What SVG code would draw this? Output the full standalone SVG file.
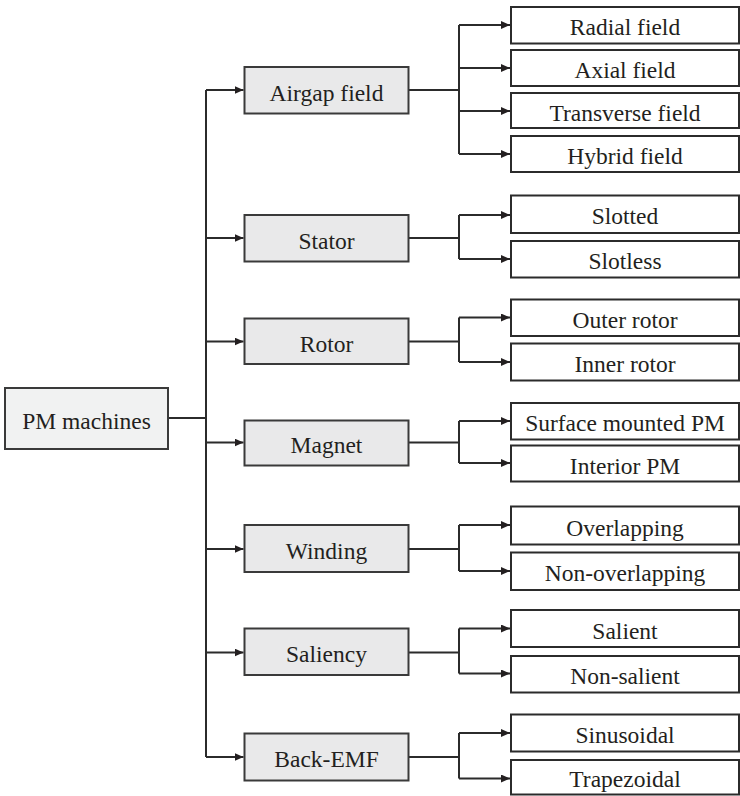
<svg xmlns="http://www.w3.org/2000/svg" width="740" height="796" viewBox="0 0 740 796">
<style>
.t{font-family:"Liberation Serif","Times New Roman",serif;font-size:23.5px;fill:#231f20;text-anchor:middle}
.leaf{fill:#ffffff;stroke:#2b2b2b;stroke-width:2}
.mid{fill:#e9e9ea;stroke:#3a3a3a;stroke-width:2}
.root{fill:#f1f2f2;stroke:#3a3a3a;stroke-width:2}
.c{fill:none;stroke:#2b2b2b;stroke-width:2}
</style>
<defs>
<marker id="ah" markerUnits="userSpaceOnUse" markerWidth="10" markerHeight="9" refX="9" refY="4" orient="auto">
<path d="M0,0 L9,4 L0,8 z" fill="#231f20"/>
</marker>
</defs>
<g id="connectors">
<path class="c" d="M168,418 H206"/>
<path class="c" d="M206,90 V757"/>
<path class="c" d="M206,90 H243.5" marker-end="url(#ah)"/>
<path class="c" d="M206,238 H243.5" marker-end="url(#ah)"/>
<path class="c" d="M206,341.5 H243.5" marker-end="url(#ah)"/>
<path class="c" d="M206,442.5 H243.5" marker-end="url(#ah)"/>
<path class="c" d="M206,549 H243.5" marker-end="url(#ah)"/>
<path class="c" d="M206,652.5 H243.5" marker-end="url(#ah)"/>
<path class="c" d="M206,757 H243.5" marker-end="url(#ah)"/>
<path class="c" d="M408.5,90 H459"/>
<path class="c" d="M459,25 V154"/>
<path class="c" d="M459,25 H510" marker-end="url(#ah)"/>
<path class="c" d="M459,68 H510" marker-end="url(#ah)"/>
<path class="c" d="M459,111 H510" marker-end="url(#ah)"/>
<path class="c" d="M459,154 H510" marker-end="url(#ah)"/>
<path class="c" d="M408.5,238 H459"/>
<path class="c" d="M459,215 V259"/>
<path class="c" d="M459,215 H510" marker-end="url(#ah)"/>
<path class="c" d="M459,259 H510" marker-end="url(#ah)"/>
<path class="c" d="M408.5,341.5 H459"/>
<path class="c" d="M459,317.5 V362"/>
<path class="c" d="M459,317.5 H510" marker-end="url(#ah)"/>
<path class="c" d="M459,362 H510" marker-end="url(#ah)"/>
<path class="c" d="M408.5,442.5 H459"/>
<path class="c" d="M459,421 V463"/>
<path class="c" d="M459,421 H510" marker-end="url(#ah)"/>
<path class="c" d="M459,463 H510" marker-end="url(#ah)"/>
<path class="c" d="M408.5,549 H459"/>
<path class="c" d="M459,525 V571"/>
<path class="c" d="M459,525 H510" marker-end="url(#ah)"/>
<path class="c" d="M459,571 H510" marker-end="url(#ah)"/>
<path class="c" d="M408.5,652.5 H459"/>
<path class="c" d="M459,628.5 V673.5"/>
<path class="c" d="M459,628.5 H510" marker-end="url(#ah)"/>
<path class="c" d="M459,673.5 H510" marker-end="url(#ah)"/>
<path class="c" d="M408.5,757 H459"/>
<path class="c" d="M459,733 V778.5"/>
<path class="c" d="M459,733 H510" marker-end="url(#ah)"/>
<path class="c" d="M459,778.5 H510" marker-end="url(#ah)"/>
</g>
<g id="pm-machines"><rect class="root" x="5" y="388" width="163" height="61"/><text class="t" x="86.5" y="428.5">PM machines</text></g>
<g id="airgap-field"><rect class="mid" x="244.5" y="67" width="164" height="46.5"/><text class="t" x="326.5" y="100.5">Airgap field</text></g>
<g id="stator"><rect class="mid" x="244.5" y="215" width="164" height="46.5"/><text class="t" x="326.5" y="248.5">Stator</text></g>
<g id="rotor"><rect class="mid" x="244.5" y="318.5" width="164" height="45.5"/><text class="t" x="326.5" y="351.5">Rotor</text></g>
<g id="magnet"><rect class="mid" x="244.5" y="420.5" width="164" height="45"/><text class="t" x="326.5" y="453">Magnet</text></g>
<g id="winding"><rect class="mid" x="244.5" y="525" width="164" height="47"/><text class="t" x="326.5" y="558.5">Winding</text></g>
<g id="saliency"><rect class="mid" x="244.5" y="628.5" width="164" height="46.5"/><text class="t" x="326.5" y="662">Saliency</text></g>
<g id="back-emf"><rect class="mid" x="244.5" y="733.5" width="164" height="47"/><text class="t" x="326.5" y="767">Back-EMF</text></g>
<g id="radial-field"><rect class="leaf" x="511" y="7" width="228" height="36.5"/><text class="t" x="625" y="35">Radial field</text></g>
<g id="axial-field"><rect class="leaf" x="511" y="50" width="228" height="36"/><text class="t" x="625" y="78">Axial field</text></g>
<g id="transverse-field"><rect class="leaf" x="511" y="93" width="228" height="35"/><text class="t" x="625" y="120.5">Transverse field</text></g>
<g id="hybrid-field"><rect class="leaf" x="511" y="136" width="228" height="36"/><text class="t" x="625" y="164">Hybrid field</text></g>
<g id="slotted"><rect class="leaf" x="511" y="195.5" width="228" height="37.5"/><text class="t" x="625" y="224">Slotted</text></g>
<g id="slotless"><rect class="leaf" x="511" y="241" width="228" height="36.5"/><text class="t" x="625" y="269">Slotless</text></g>
<g id="outer-rotor"><rect class="leaf" x="511" y="299.5" width="228" height="36.5"/><text class="t" x="625" y="327.5">Outer rotor</text></g>
<g id="inner-rotor"><rect class="leaf" x="511" y="343.5" width="228" height="37"/><text class="t" x="625" y="372">Inner rotor</text></g>
<g id="surface-mounted-pm"><rect class="leaf" x="511" y="403" width="228" height="36.5"/><text class="t" x="625" y="431">Surface mounted PM</text></g>
<g id="interior-pm"><rect class="leaf" x="511" y="445.5" width="228" height="36"/><text class="t" x="625" y="473.5">Interior PM</text></g>
<g id="overlapping"><rect class="leaf" x="511" y="506.5" width="228" height="38"/><text class="t" x="625" y="535.5">Overlapping</text></g>
<g id="non-overlapping"><rect class="leaf" x="511" y="552.5" width="228" height="37.5"/><text class="t" x="625" y="581">Non-overlapping</text></g>
<g id="salient"><rect class="leaf" x="511" y="610" width="228" height="37"/><text class="t" x="625" y="638.5">Salient</text></g>
<g id="non-salient"><rect class="leaf" x="511" y="656" width="228" height="36.5"/><text class="t" x="625" y="684">Non-salient</text></g>
<g id="sinusoidal"><rect class="leaf" x="511" y="714.5" width="228" height="37"/><text class="t" x="625" y="743">Sinusoidal</text></g>
<g id="trapezoidal"><rect class="leaf" x="511" y="760" width="228" height="34.5"/><text class="t" x="625" y="787">Trapezoidal</text></g>
</svg>
